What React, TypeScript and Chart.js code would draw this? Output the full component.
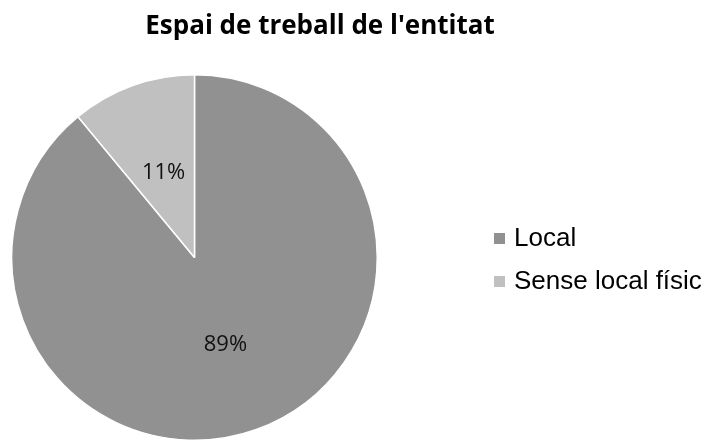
import React, { useEffect, useRef } from "react";
import { Chart, registerables } from "chart.js";

Chart.register(...registerables);

const titleText = "Espai de treball de l'entitat";
const categories = ["Local", "Sense local físic"];
const values = [89, 11];
const labelsText = ["89%", "11%"];
const colors = ["#919191", "#c0c0c0"];

const decorPlugin = {
  id: "decor",
  afterDatasetsDraw(chart: any) {
    const ctx = chart.ctx;
    const meta = chart.getDatasetMeta(0);
    ctx.save();
    // data labels
    const fs = 22;
    ctx.font = `${fs}px "Open Sans"`;
    ctx.fillStyle = "#111";
    ctx.textAlign = "center";
    ctx.textBaseline = "alphabetic";
    meta.data.forEach((arc: any, i: number) => {
      const p = arc.getProps(["x", "y", "startAngle", "endAngle", "outerRadius"], true);
      const mid = (p.startAngle + p.endAngle) / 2;
      const d = p.outerRadius * 0.5;
      const x = p.x + Math.cos(mid) * d;
      const y = p.y + Math.sin(mid) * d;
      ctx.fillText(labelsText[i], x, y + fs * 0.357);
    });
    // title
    ctx.font = `bold 26px "Open Sans"`;
    ctx.fillStyle = "#000";
    ctx.fillText(titleText, 320, 34);
    // legend
    ctx.textAlign = "left";
    ctx.font = `26px "Liberation Sans", Arial`;
    categories.forEach((c, i) => {
      const top = 233 + i * 43;
      ctx.fillStyle = colors[i];
      ctx.fillRect(494, top, 11, 11);
      ctx.fillStyle = "#000";
      ctx.fillText(c, 514, 246 + i * 43);
    });
    ctx.restore();
  },
};

export default function App() {
  const ref = useRef<HTMLCanvasElement>(null);
  useEffect(() => {
    const chart = new Chart(ref.current!, {
      type: "pie",
      data: {
        labels: categories,
        datasets: [
          {
            data: values,
            backgroundColor: colors,
            borderColor: "#ffffff",
            borderWidth: 1.5,
          },
        ],
      },
      options: {
        animation: false,
        responsive: false,
        events: [],
        layout: { padding: { left: 11, right: 327, top: 74, bottom: 0 } },
        plugins: {
          legend: { display: false },
          title: { display: false },
          tooltip: { enabled: false },
        },
      },
      plugins: [decorPlugin],
    });
    return () => chart.destroy();
  }, []);
  return (
    <div style={{ position: "absolute", left: 0, top: 0, width: 705, height: 441, background: "#fff" }}>
      <canvas ref={ref} width={705} height={441} style={{ width: 705, height: 441 }} />
    </div>
  );
}
